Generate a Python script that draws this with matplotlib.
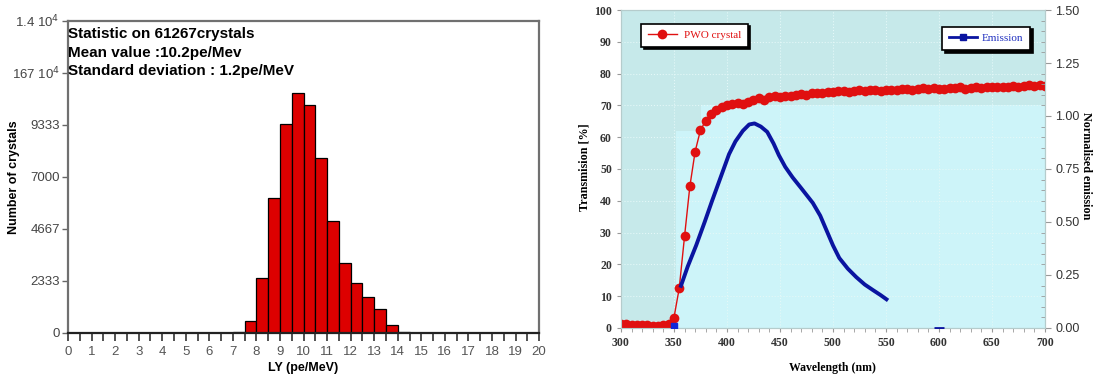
import matplotlib
matplotlib.use("Agg")
import matplotlib.pyplot as plt
from matplotlib.ticker import MultipleLocator

# Data

# Left panel: light yield histogram (bins of 0.5 pe/MeV)
binEdges = [7.0, 7.5, 8.0, 8.5, 9.0, 9.5, 10.0, 10.5, 11.0, 11.5,
            12.0, 12.5, 13.0, 13.5, 14.0]
binCounts = [50, 537, 2475, 6053, 9362, 10750, 10212, 7828, 5010, 3131,
             2251, 1595, 1058, 373, 30]
yTickValues = [0, 2333, 4667, 7000, 9333, 11667, 14000]
yTickLabels = ["0", "2333", "4667", "7000", "9333",
               "167 10$^4$", "1.4 10$^4$"]
statText = ["Statistic on 61267crystals",
            "Mean value :10.2pe/Mev",
            "Standard deviation : 1.2pe/MeV"]

# Right panel: PWO transmission (%) every 5 nm from 300 to 700 nm
waveTrans = list(range(300, 705, 5))
transmission = [1.2, 1.1, 1.0, 0.9, 0.8, 0.8, 0.7, 0.7, 0.8, 1.1,
                3.2, 12.5, 28.8, 44.5, 55.5, 62.2, 65.2, 67.3, 68.6, 69.4,
                70.0, 70.3, 70.6, 70.4, 71.0, 71.6, 72.2, 71.8, 72.6, 72.9,
                72.7, 73.1, 72.9, 73.4, 73.6, 73.3, 73.8, 74.0, 73.9, 74.3,
                74.1, 74.4, 74.6, 74.3, 74.6, 74.8, 74.5, 74.7, 74.9, 74.6,
                74.8, 75.0, 74.8, 75.1, 75.3, 75.0, 75.2, 75.4, 75.1, 75.5,
                75.3, 75.2, 75.6, 75.4, 75.7, 75.3, 75.6, 75.9, 75.5, 75.8,
                75.7, 75.9, 75.8, 75.9, 76.0, 75.8, 76.1, 76.4, 76.0, 76.3,
                76.0]

# Right panel: normalised emission
waveEmis = [356, 363, 371, 379, 386, 394, 402, 408, 415, 421, 426, 432,
            438, 444, 449, 455, 462, 470, 481, 488, 494, 500, 506, 514,
            522, 530, 538, 545, 552]
emission = [0.19, 0.29, 0.39, 0.50, 0.60, 0.71, 0.82, 0.88, 0.93, 0.96,
            0.965, 0.95, 0.925, 0.87, 0.815, 0.76, 0.71, 0.66, 0.59, 0.53,
            0.46, 0.39, 0.33, 0.28, 0.24, 0.205, 0.178, 0.155, 0.13]
emisMarkX = [350]
emisMarkY = [0.01]
emisDashX = [600]
emisDashY = [0.0]

# Figure

fig = plt.figure(figsize=(10.99, 3.79), dpi=100)
sansFont = "Liberation Sans"
serifFont = "Liberation Serif"

# Left panel: histogram
ax1 = fig.add_axes([0.0619, 0.1214, 0.4286, 0.824])
ax1.bar(binEdges, binCounts, width=0.5, align="edge", color="#dd0000",
        edgecolor="black", linewidth=0.9)
ax1.set_xlim(0, 20)
ax1.set_ylim(0, 14000)
ax1.set_xticks(range(0, 21))
ax1.xaxis.set_minor_locator(MultipleLocator(0.5))
ax1.set_yticks(yTickValues)
ax1.set_yticklabels(yTickLabels)
ax1.tick_params(axis="x", which="both", direction="out", length=6,
                width=1.2, color="#333333", labelsize=9.5, labelcolor="#555555")
ax1.tick_params(axis="y", direction="out", length=4, width=1,
                color="#666666", labelsize=9.5, labelcolor="#444444", pad=2)
for tick in ax1.get_xticklabels() + ax1.get_yticklabels():
    tick.set_family(sansFont)
for side in ["top", "right", "left"]:
    ax1.spines[side].set_color("#707070")
    ax1.spines[side].set_linewidth(1.6)
ax1.spines["bottom"].set_color("#222222")
ax1.spines["bottom"].set_linewidth(1.6)
ax1.set_xlabel("LY (pe/MeV)", family=sansFont, fontweight="bold",
               fontsize=9, labelpad=3)
ax1.set_ylabel("Number of crystals", family=sansFont, fontweight="bold",
               fontsize=9)
ax1.yaxis.set_label_coords(-0.102, 0.5)
for i, line in enumerate(statText):
    ax1.text(0.0, 0.956 - i * 0.058, line, transform=ax1.transAxes,
             family=sansFont, fontweight="bold", fontsize=11, va="center")

# Right panel: transmission and emission
ax2 = fig.add_axes([0.565, 0.1346, 0.3858, 0.839])
ax2.set_facecolor("#c6e9ea")
ax2.fill([352, 352, 376, 376, 700, 700], [0, 62, 62, 70, 70, 0],
         color="#cdf4f9", zorder=0, linewidth=0)
ax2.grid(True, color="#e4f8f8", linestyle=":", linewidth=0.8, zorder=0.5)
ax2.plot(waveTrans, transmission, color="#e01010", linewidth=1,
         marker="o", markersize=7, markeredgewidth=0, label="PWO crystal",
         zorder=3)
ax2.set_xlim(300, 700)
ax2.set_ylim(0, 100)
ax2.set_xticks(range(300, 701, 50))
ax2.xaxis.set_minor_locator(MultipleLocator(10))
ax2.set_yticks(range(0, 101, 10))
ax2.tick_params(axis="both", which="both", direction="out", length=3,
                color="#999999", labelsize=8.5, labelcolor="#333333")
for tick in ax2.get_xticklabels() + ax2.get_yticklabels():
    tick.set_family(serifFont)
    tick.set_fontweight("bold")
for side in ax2.spines:
    ax2.spines[side].set_color("#b5cccc")
    ax2.spines[side].set_linewidth(0.8)
ax2.set_xlabel("Wavelength (nm)", family=serifFont, fontweight="bold",
               fontsize=8.5, labelpad=9)
ax2.set_ylabel("Transmision [%]", family=serifFont, fontweight="bold",
               fontsize=8.7)
ax2.yaxis.set_label_coords(-0.072, 0.505)

ax3 = ax2.twinx()
ax3.plot(waveEmis, emission, color="#0a14a0", linewidth=2.8,
         solid_capstyle="butt", zorder=4)
ax3.plot(emisMarkX, emisMarkY, color="#1028d8", marker="s", markersize=5,
         linestyle="none", zorder=4)
ax3.plot(emisDashX, emisDashY, color="#0a14a0", marker="_", markersize=7,
         markeredgewidth=2, linestyle="none", zorder=4)
ax3.set_ylim(0, 1.5)
ax3.set_yticks([0.0, 0.25, 0.5, 0.75, 1.0, 1.25, 1.5])
ax3.set_yticklabels(["0.00", "0.25", "0.50", "0.75", "1.00", "1.25", "1.50"])
ax3.yaxis.set_minor_locator(MultipleLocator(0.05))
ax3.tick_params(axis="y", which="major", direction="out", length=4,
                color="#999999", labelsize=9, labelcolor="#333333")
ax3.tick_params(axis="y", which="minor", direction="in", length=3,
                color="#999999")
for tick in ax3.get_yticklabels():
    tick.set_family(sansFont)
for side in ax3.spines:
    ax3.spines[side].set_color("#b5cccc")
    ax3.spines[side].set_linewidth(0.8)
ax3.set_ylabel("Normalised emission", family=serifFont, fontweight="bold",
               fontsize=8.7, rotation=270)
ax3.yaxis.set_label_coords(1.11, 0.51)

# Legends drawn as two separate boxes
leg1 = ax2.legend(loc="upper left", bbox_to_anchor=(0.035, 0.975),
                  fancybox=False, shadow={"color": "black", "alpha": 1},
                  edgecolor="black", framealpha=1, handlelength=2.6,
                  handletextpad=0.6,
                  prop={"family": serifFont, "size": 8}, borderpad=0.6)
for text in leg1.get_texts():
    text.set_color("#e01010")
leg1.get_frame().set_linewidth(1.2)

emisHandle, = ax3.plot([], [], color="#0a14a0", linewidth=2, marker="s",
                       markersize=4, label="Emission")
leg2 = ax3.legend(handles=[emisHandle], loc="upper right",
                  bbox_to_anchor=(0.978, 0.965), fancybox=False,
                  shadow={"color": "black", "alpha": 1}, edgecolor="black",
                  framealpha=1, handlelength=2.6, handletextpad=0.4,
                  prop={"family": serifFont, "size": 8}, borderpad=0.6)
for text in leg2.get_texts():
    text.set_color("#2030c0")
leg2.get_frame().set_linewidth(1.2)

fig.savefig("out.png", dpi=100)
